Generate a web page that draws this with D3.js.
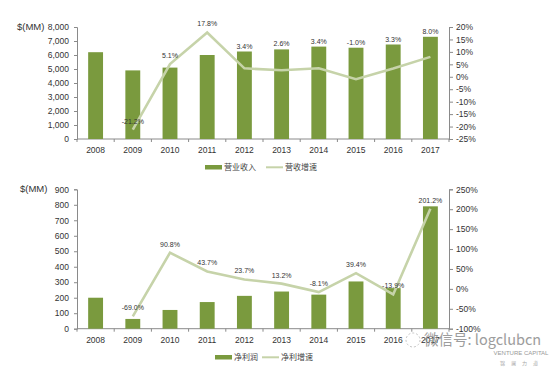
<!DOCTYPE html>
<html><head><meta charset="utf-8">
<script src="https://cdn.jsdelivr.net/npm/d3@7"></script>
<style>
body{margin:0;background:#fff;}
svg{display:block;font-family:"Liberation Sans",Arial,sans-serif;}
.cjk{font-family:"Noto Sans CJK SC","Noto Sans",sans-serif;}
</style></head>
<body>
<svg id="c" width="556" height="367"></svg>
<script>
const years = ["2008","2009","2010","2011","2012","2013","2014","2015","2016","2017"];
const revenue = [6200, 4900, 5100, 6000, 6250, 6400, 6600, 6520, 6750, 7300];
const revenueGrowth = [null, -21.2, 5.1, 17.8, 3.4, 2.6, 3.4, -1.0, 3.3, 8.0];
const profit = [200, 63, 121, 172, 212, 240, 220, 305, 262, 790];
const profitGrowth = [null, -69.0, 90.8, 43.7, 23.7, 13.2, -8.1, 39.4, -13.9, 201.2];
const revTicks = [0,1000,2000,3000,4000,5000,6000,7000,8000];
const revPctTicks = [-25,-20,-15,-10,-5,0,5,10,15,20];
const profTicks = [0,100,200,300,400,500,600,700,800,900];
const profPctTicks = [-100,-50,0,50,100,150,200,250];

const BAR = "#7a9a3e", LINE = "#c6d3a9", AX = "#8a8a8a", TXT = "#333";
const svg = d3.select("#c");

function chart(o){
  const g = svg.append("g");
  const x = d3.scaleBand().domain(years).range([77,449]).paddingInner(0.6).paddingOuter(0.3);
  const yL = d3.scaleLinear().domain([o.lTicks[0], o.lTicks[o.lTicks.length-1]]).range([o.bottom,o.top]);
  const yR = d3.scaleLinear().domain([o.rTicks[0], o.rTicks[o.rTicks.length-1]]).range([o.bottom,o.top]);
  const la = g.append("g").attr("transform","translate(77,0)")
    .call(d3.axisLeft(yL).tickValues(o.lTicks).tickSize(3).tickPadding(5).tickFormat(d3.format(",")));
  const ra = g.append("g").attr("transform","translate(449,0)")
    .call(d3.axisRight(yR).tickValues(o.rTicks).tickSize(4).tickPadding(3).tickFormat(d=>d+"%"));
  [la,ra].forEach(a=>{
    a.select(".domain").attr("stroke",AX);
    a.selectAll(".tick line").attr("stroke",AX);
    a.selectAll("text").attr("fill",TXT).style("font-size","8.5px");
  });
  const xa = g.append("g").attr("transform",`translate(0,${o.bottom})`);
  xa.append("line").attr("x1",77).attr("x2",449).attr("stroke",AX);
  const step = x.step();
  xa.selectAll("line.t").data(d3.range(years.length+1)).join("line").attr("class","t")
    .attr("x1",i=>77+i*step).attr("x2",i=>77+i*step).attr("y1",0).attr("y2",3).attr("stroke",AX);
  xa.selectAll("text").data(years).join("text")
    .attr("x",d=>x(d)+x.bandwidth()/2).attr("y",14).attr("text-anchor","middle")
    .attr("fill",TXT).style("font-size","8.5px").text(d=>d);
  g.append("text").attr("x",o.unitX).attr("y",o.top+3).attr("fill",TXT).style("font-size","9.5px").text("$(MM)");
  g.selectAll("rect.b").data(o.bars).join("rect").attr("class","b")
    .attr("x",(d,i)=>x(years[i])).attr("width",x.bandwidth())
    .attr("y",d=>yL(d)).attr("height",d=>yL(0)-yL(d)).attr("fill",BAR);
  const pts = o.growth.map((v,i)=>({v,i})).filter(d=>d.v!==null);
  g.append("path").datum(pts)
    .attr("d",d3.line().x(d=>x(years[d.i])+x.bandwidth()/2).y(d=>yR(d.v)))
    .attr("fill","none").attr("stroke",LINE).attr("stroke-width",2.6);
  g.selectAll("text.l").data(pts).join("text").attr("class","l")
    .attr("x",d=>x(years[d.i])+x.bandwidth()/2)
    .attr("y",d=>o.labelY(d, yR(d.v), yL(o.bars[d.i])))
    .attr("text-anchor","middle").attr("fill",TXT).style("font-size","7px")
    .text(d=>d.v.toFixed(1)+"%");
  const lg = g.append("g").attr("transform",`translate(0,${o.legendY})`);
  lg.append("rect").attr("x",o.lgX).attr("y",-2).attr("width",17).attr("height",4.5).attr("fill",BAR);
  lg.append("text").attr("class","cjk").attr("x",o.lgX+19).attr("y",3).attr("fill","#444").style("font-size","8px").text(o.names[0]);
  const lx = o.lgX + o.gap;
  lg.append("line").attr("x1",lx).attr("x2",lx+17).attr("y1",0.3).attr("y2",0.3).attr("stroke",LINE).attr("stroke-width",2);
  lg.append("text").attr("class","cjk").attr("x",lx+19).attr("y",3).attr("fill","#444").style("font-size","8px").text(o.names[1]);
}

chart({top:27, bottom:139, lTicks:revTicks, rTicks:revPctTicks, bars:revenue, growth:revenueGrowth,
  unitX:17, legendY:167, lgX:205, gap:61, names:["营业收入","营收增速"],
  labelY:(d,py,by)=> (d.i===1 || py<by) ? py-6 : by-3});
chart({top:189.3, bottom:328.7, lTicks:profTicks, rTicks:profPctTicks, bars:profit, growth:profitGrowth,
  unitX:20, legendY:357, lgX:215, gap:47, names:["净利润","净利增速"],
  labelY:(d,py,by)=> py-6});

// watermark
const wm = svg.append("g").attr("opacity",0.85);
wm.append("circle").attr("cx",413).attr("cy",340).attr("r",7).attr("fill","none").attr("stroke","#bbb").attr("stroke-dasharray","2,2");
wm.append("text").attr("class","cjk").attr("x",424).attr("y",345).attr("fill","#8c8c8c").style("font-size","14.5px").text("微信号: logclubcn");
wm.append("text").attr("x",521).attr("y",355).attr("text-anchor","middle").attr("fill","#888").style("font-size","6px").text("VENTURE CAPITAL");
wm.append("text").attr("class","cjk").attr("x",522).attr("y",365).attr("text-anchor","middle").attr("fill","#999").style("font-size","5px").attr("letter-spacing","6px").text("锦澜力道");
</script>
</body></html>
